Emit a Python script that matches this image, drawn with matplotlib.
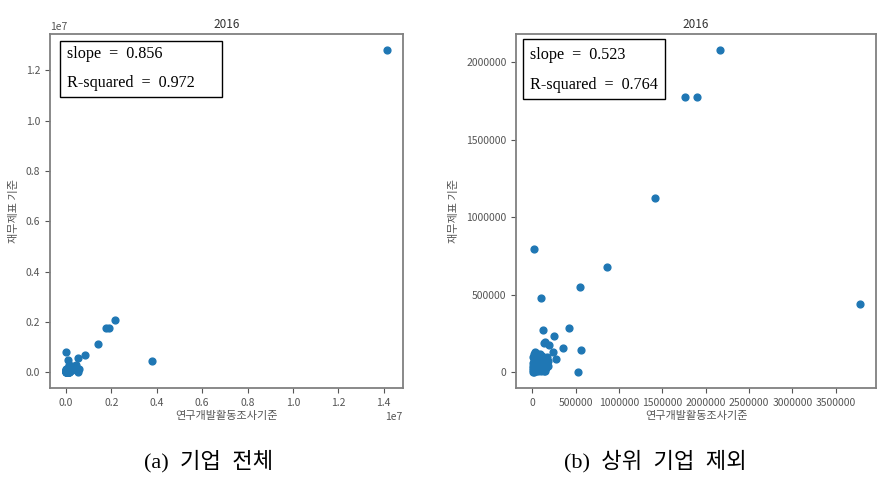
import matplotlib
matplotlib.use("Agg")
import matplotlib.pyplot as plt
from matplotlib.patches import Rectangle

plt.rcParams['font.family'] = ['Noto Sans CJK KR', 'DejaVu Sans']

# values in millions (won)
big_x = [2.166, 1.764, 1.900, 1.417, 0.012, 0.857, 0.548, 0.100, 3.776, 0.425,
         0.124, 0.251, 0.347, 0.560, 0.525, 0.274, 0.236, 0.143, 0.189, 0.130]
big_y = [2.079, 1.773, 1.773, 1.122, 0.798, 0.680, 0.547, 0.476, 0.442, 0.288,
         0.275, 0.232, 0.155, 0.142, 0.000, 0.086, 0.129, 0.197, 0.176, 0.190]

# dense cluster near the origin
small_x = [0.002, 0.005, 0.008, 0.010, 0.012, 0.015, 0.018, 0.020, 0.025, 0.030,
           0.035, 0.040, 0.045, 0.050, 0.055, 0.060, 0.065, 0.070, 0.075, 0.080,
           0.085, 0.090, 0.095, 0.100, 0.105, 0.110, 0.115, 0.120, 0.125, 0.130,
           0.135, 0.140, 0.145, 0.150, 0.155, 0.160, 0.165, 0.170, 0.030, 0.045,
           0.020, 0.070, 0.100, 0.150, 0.060, 0.040, 0.002, 0.005, 0.180, 0.185,
           0.025, 0.055, 0.085, 0.115, 0.035, 0.065, 0.095, 0.125, 0.015, 0.050]
small_y = [0.003, 0.012, 0.025, 0.040, 0.060, 0.080, 0.100, 0.118, 0.128, 0.110,
           0.090, 0.070, 0.050, 0.030, 0.015, 0.005, 0.040, 0.060, 0.080, 0.100,
           0.120, 0.020, 0.045, 0.065, 0.085, 0.105, 0.030, 0.050, 0.070, 0.010,
           0.090, 0.040, 0.060, 0.080, 0.025, 0.050, 0.070, 0.095, 0.020, 0.010,
           0.002, 0.025, 0.010, 0.005, 0.110, 0.125, 0.060, 0.100, 0.040, 0.075,
           0.045, 0.065, 0.035, 0.015, 0.030, 0.090, 0.075, 0.035, 0.020, 0.095]

# the top firm, only in panel (a)
top_x = [14.13]
top_y = [12.81]

x_b = [v * 1e6 for v in big_x + small_x]
y_b = [v * 1e6 for v in big_y + small_y]
x_a = x_b + [v * 1e6 for v in top_x]
y_a = y_b + [v * 1e6 for v in top_y]

stats_a = ["slope  =  0.856", "R-squared  =  0.972"]
stats_b = ["slope  =  0.523", "R-squared  =  0.764"]
captions = ["(a)  기업  전체", "(b)  상위  기업  제외"]

fig = plt.figure(figsize=(8.94, 4.78), dpi=100)
ax_a = fig.add_axes([0.0559, 0.1877, 0.3946, 0.7412])
ax_b = fig.add_axes([0.5775, 0.1877, 0.4024, 0.7412])

serif = ['Liberation Serif', 'Noto Sans CJK KR']
grey = '#555555'

panels = [
    (ax_a, x_a, y_a, stats_a, captions[0], (0.028, 0.821, 0.459, 0.160, 0.047, 0.9435, 0.862), 0.233),
    (ax_b, x_b, y_b, stats_b, captions[1], (0.0186, 0.816, 0.396, 0.169, 0.038, 0.942, 0.856), 0.733),
]

for ax, xs, ys, stats, cap, box, cap_x in panels:
    ax.scatter(xs, ys, s=24, color='#1f77b4', zorder=3)
    ax.set_title('2016', fontsize=8.5, color='#333333', pad=4)
    ax.set_xlabel('연구개발활동조사기준', fontsize=8, color=grey, labelpad=2)
    ax.set_ylabel('재무제표 기준', fontsize=8, color=grey, labelpad=5)
    ax.tick_params(labelsize=7.5, colors=grey, length=3.5, width=0.8)
    for sp in ax.spines.values():
        sp.set_color('#808080')
        sp.set_linewidth(1.3)
    ax.add_patch(Rectangle((box[0], box[1]), box[2], box[3], transform=ax.transAxes,
                           facecolor='white', edgecolor='black', linewidth=1.0, zorder=4))
    ax.text(box[4], box[5], stats[0], transform=ax.transAxes, fontsize=11.6,
            family=serif, va='center', ha='left', zorder=5)
    ax.text(box[4], box[6], stats[1], transform=ax.transAxes, fontsize=11.6,
            family=serif, va='center', ha='left', zorder=5)
    fig.text(cap_x, 0.035, cap, fontsize=16, family=serif, ha='center', va='center')

ax_b.ticklabel_format(style='plain', useOffset=False)
for axis in (ax_a.xaxis, ax_a.yaxis):
    axis.get_offset_text().set_fontsize(7.5)
    axis.get_offset_text().set_color(grey)

fig.savefig('out.png', dpi=100)
